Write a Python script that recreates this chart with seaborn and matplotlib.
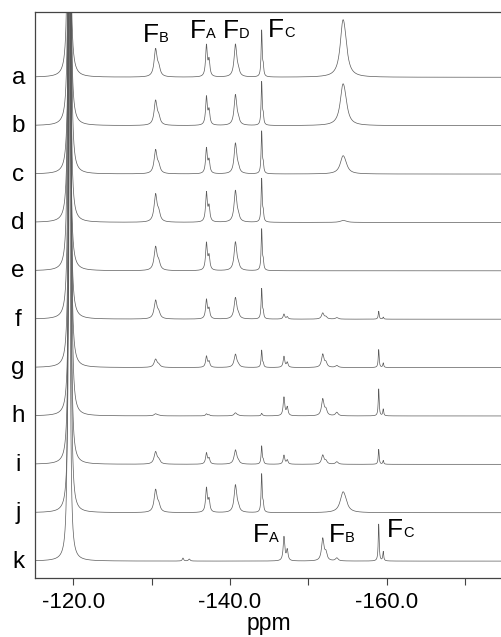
import numpy as np
import pandas as pd
import matplotlib
matplotlib.use("Agg")
import matplotlib.pyplot as plt
import seaborn as sns

# 19F NMR stack, traces a..k (top to bottom)
rows = ["a", "b", "c", "d", "e", "f", "g", "h", "i", "j", "k"]

# main (reference) peak, clipped at the top of the frame
main_ppm = [-119.45, -119.5, -119.55, -119.5, -119.45, -119.5,
            -119.55, -119.6, -119.55, -119.55, -119.45]
main_height = 1500
main_hwhm = 0.075

# signals: centre, half width, shoulder shift, shoulder ratio
peak_ppm = [-130.5, -137.0, -140.7, -144.05, -154.4,
            -146.9, -151.85, -153.65, -159.0, -134.0, -134.8]
peak_hwhm = [0.22, 0.13, 0.2, 0.08, 0.4,
             0.12, 0.18, 0.2, 0.07, 0.1, 0.12]
shoulder_shift = [-0.4, -0.33, -0.35, -0.2, -0.3,
                  -0.42, -0.4, 0.0, -0.58, 0.0, 0.0]
shoulder_ratio = [0.3, 0.5, 0.15, 0.2, 0.45,
                  0.45, 0.35, 0.0, 0.25, 0.0, 0.0]

# peak heights per trace (rows a..k, columns as peak_ppm)
heights = [
    [27, 31, 32, 46, 44, 0, 0, 0, 0, 0, 0],          # a
    [24, 28, 30, 43, 32, 0, 0, 0, 0, 0, 0],          # b
    [23, 25, 30, 42, 14, 0, 0, 0, 0, 0, 0],          # c
    [27, 29, 31, 43, 1.5, 0, 0, 0, 0, 0, 0],         # d
    [23, 27, 28, 41, 0, 0, 0, 0, 0, 0, 0],           # e
    [18, 19, 21, 30, 0, 5, 6, 1.5, 8, 0, 0],         # f
    [8, 11, 13, 17, 0, 11, 13, 2, 18, 0, 0],         # g
    [2, 2, 3, 2.5, 0, 18.5, 16.5, 3.5, 27, 0, 0],    # h
    [12, 11, 14, 18, 0, 9, 9, 2.5, 15, 0, 0],        # i
    [22, 24, 27, 38, 16, 0, 0, 0, 0, 0, 0],          # j
    [0, 0, 0, 0, 0, 24, 22, 3, 37, 3, 2],            # k
]

row_step = 48.4

tick_major = [-120, -140, -160]
tick_minor = [-130, -150, -170]

# assignment labels: (subscript, x of "F", baseline y)
upper_labels = [("B", -128.9, 519.6), ("A", -134.9, 522.8),
                ("D", -139.1, 522.8), ("C", -144.9, 524.0)]
lower_labels = [("A", -142.9, 19.6), ("B", -152.7, 19.6),
                ("C", -160.1, 24.6)]


def lorentz(x, x0, h, g):
    return h * g ** 2 / ((x - x0) ** 2 + g ** 2)


ppm = np.linspace(-115.1, -175.0, 6000)
frames = []
for i, name in enumerate(rows):
    y = lorentz(ppm, main_ppm[i], main_height, main_hwhm)
    for j, h in enumerate(heights[i]):
        if h == 0:
            continue
        y += lorentz(ppm, peak_ppm[j], h, peak_hwhm[j])
        if shoulder_ratio[j] > 0:
            y += lorentz(ppm, peak_ppm[j] + shoulder_shift[j],
                         h * shoulder_ratio[j], peak_hwhm[j])
    offset = row_step * (len(rows) - 1 - i)
    frames.append(pd.DataFrame({"ppm": ppm, "intensity": y + offset, "trace": name}))
df = pd.concat(frames, ignore_index=True)

sns.set_style("ticks")
plt.rcParams["font.family"] = ["Liberation Sans", "DejaVu Sans"]
plt.rcParams["text.color"] = "black"
plt.rcParams["axes.labelcolor"] = "black"

fig = plt.figure(figsize=(5.02, 6.37), dpi=100)
ax = fig.add_axes([35 / 502, 58.7 / 637, 467 / 502, 566.6 / 637])

sns.lineplot(data=df, x="ppm", y="intensity", hue="trace", units="trace",
             estimator=None, sort=False, palette=["#5a5a5a"] * len(rows),
             linewidth=0.5, legend=False, ax=ax)

ax.set_xlim(-115.1, -174.75)
ax.set_ylim(-17.2, 549.6)
ax.set_xticks(tick_major)
ax.set_xticklabels([f"{t:.1f}" for t in tick_major])
ax.set_xticks(tick_minor, minor=True)
ax.tick_params(axis="x", which="both", direction="out", length=5, width=0.8,
               colors="#444444", labelcolor="black", labelsize=16, pad=5)
ax.set_yticks([])
ax.set_ylabel("")
ax.set_xlabel("ppm", fontsize=16.5, labelpad=-1)
for side in ["left", "top", "bottom"]:
    ax.spines[side].set_color("#444444")
    ax.spines[side].set_linewidth(0.9)
ax.spines["right"].set_visible(False)

trans = matplotlib.transforms.blended_transform_factory(ax.transAxes, ax.transData)
for i, name in enumerate(rows):
    offset = row_step * (len(rows) - 1 - i)
    ax.text(-0.036, offset - 6.5, name, transform=trans, ha="center",
            va="baseline", fontsize=17.5)

for sub, xf, yb in upper_labels + lower_labels:
    ax.text(xf, yb, "F", ha="left", va="baseline", fontsize=19)
    ax.annotate(sub, xy=(xf, yb), xytext=(11.4, 0), textcoords="offset points",
                ha="left", va="baseline", fontsize=10.5)

fig.savefig("out.png", dpi=100)
